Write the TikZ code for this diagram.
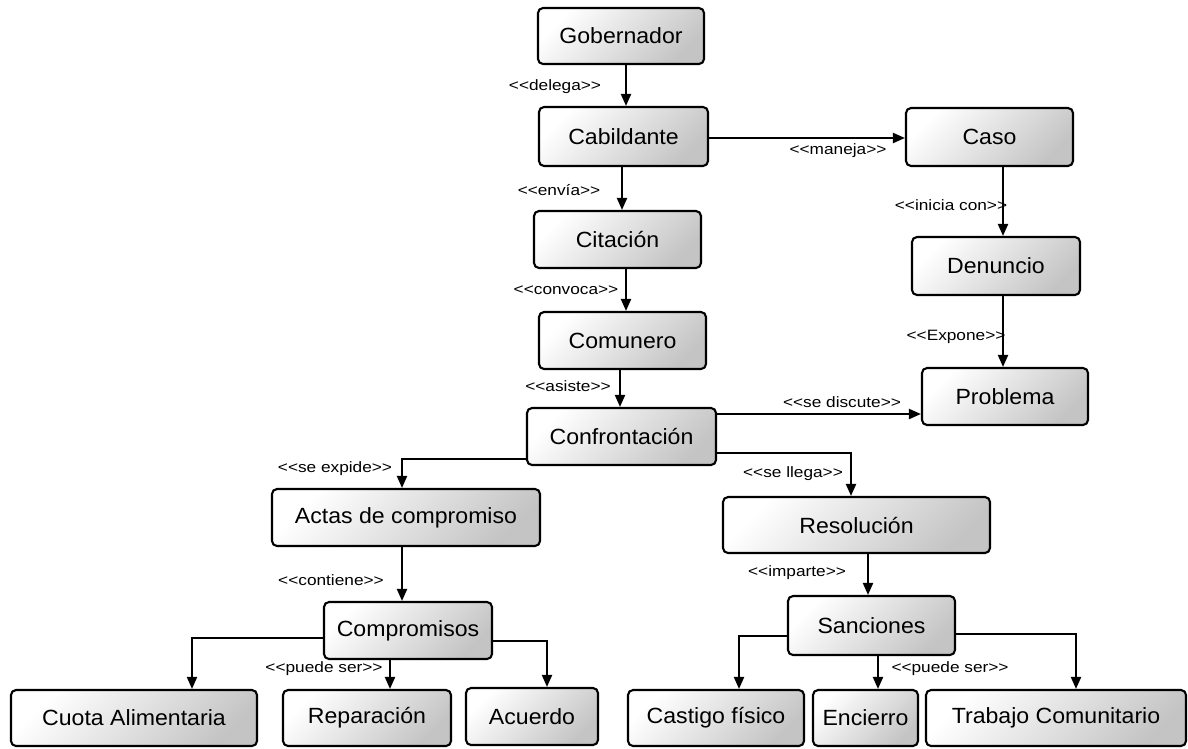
\documentclass[tikz,border=0pt]{standalone}
\usepackage{fontspec}
\newfontfamily\nodefont[FakeStretch=1.05]{Liberation Sans}
\newfontfamily\lblfont[FakeStretch=1.15]{Liberation Sans}
\usetikzlibrary{arrows.meta}
\begin{document}
\begin{tikzpicture}[x=1pt,y=-1pt,
  box/.style={draw=black, line width=2.1pt, rounded corners=5pt,
    top color=white, bottom color=black!23, shading angle=45,
    minimum height=57pt, inner sep=0pt,
    font=\nodefont\fontsize{22}{26}\selectfont, align=center},
  arr/.style={line width=2pt, -{Triangle[length=12pt,width=10pt]}},
  lbl/.style={inner sep=0pt, font=\lblfont\fontsize{15}{18}\selectfont}]
\useasboundingbox (0,0) rectangle (1188,748);

% nodes
\node[box, minimum width=166pt, minimum height=56pt] (gob)   at (621,36)    {Gobernador};
\node[box, minimum width=169pt, minimum height=59pt] (cab)   at (623.5,136.5) {Cabildante};
\node[box, minimum width=167pt, minimum height=58pt] (caso)  at (989.5,137) {Caso};
\node[box, minimum width=167pt] (cit)   at (617.5,239.5) {Citación};
\node[box, minimum width=168pt, minimum height=58pt] (den)   at (996,266)   {Denuncio};
\node[box, minimum width=167pt] (com)   at (622.5,340.5) {Comunero};
\node[box, minimum width=166pt] (prob)  at (1005,396.5) {Problema};
\node[box, minimum width=189pt] (conf)  at (621.5,436.5) {Confrontación};
\node[box, minimum width=268pt] (actas) at (406,517.5)  {Actas de compromiso};
\node[box, minimum width=267pt, minimum height=56pt] (res)   at (856.5,525) {Resolución};
\node[box, minimum width=168pt] (compr) at (408,630.5)  {Compromisos};
\node[box, minimum width=167pt, minimum height=59pt] (sanc)  at (871.5,625.5) {Sanciones};
\node[box, minimum width=246pt, minimum height=56pt] (cuota) at (134,718)   {Cuota Alimentaria};
\node[box, minimum width=168pt, minimum height=56pt] (rep)   at (367,718)   {Reparación};
\node[box, minimum width=132pt, minimum height=57pt] (acu)   at (532,716.5) {Acuerdo};
\node[box, minimum width=176pt, minimum height=56pt] (cast)  at (716,718)   {Castigo físico};
\node[box, minimum width=105pt, minimum height=56pt] (enc)   at (865.5,718) {Encierro};
\node[box, minimum width=260pt, minimum height=56pt] (trab)  at (1056,718)  {Trabajo Comunitario};

% connectors
\draw[arr] (gob.south -| 626,0) -- (cab.north -| 626,0);
\draw[arr] (cab.east |- 0,138) -- (caso.west |- 0,138);
\draw[arr] (cab.south -| 622,0) -- (cit.north -| 622,0);
\draw[arr] (cit.south -| 626,0) -- (com.north -| 626,0);
\draw[arr] (com.south -| 620,0) -- (conf.north -| 620,0);
\draw[arr] (caso.south -| 1003,0) -- (den.north -| 1003,0);
\draw[arr] (den.south -| 1003,0) -- (prob.north -| 1003,0);
\draw[arr] (conf.east |- 0,414) -- (prob.west |- 0,414);
\draw[arr] (conf.west |- 0,459) -| (actas.north -| 402,0);
\draw[arr] (conf.east |- 0,453) -| (res.north -| 851,0);
\draw[arr] (actas.south -| 402,0) -- (compr.north -| 402,0);
\draw[arr] (res.south -| 868,0) -- (sanc.north -| 868,0);
\draw[arr] (compr.west |- 0,638) -| (cuota.north -| 192,0);
\draw[arr] (compr.south -| 390,0) -- (rep.north -| 390,0);
\draw[arr] (compr.east |- 0,641) -| (acu.north -| 547,0);
\draw[arr] (sanc.west |- 0,636) -| (cast.north -| 739,0);
\draw[arr] (sanc.south -| 878,0) -- (enc.north -| 878,0);
\draw[arr] (sanc.east |- 0,634) -| (trab.north -| 1076,0);

% labels
\node[lbl] (l1)  at (555,87)   {<<delega>>};
\node[lbl] (l2)  at (838,151)  {<<maneja>>};
\node[lbl] (l3)  at (559,190)  {<<envía>>};
\node[lbl] (l4)  at (566,290)  {<<convoca>>};
\node[lbl] (l5)  at (568,386)  {<<asiste>>};
\node[lbl] (l6)  at (951,205)  {<<inicia con>>};
\node[lbl] (l7)  at (956,337)  {<<Expone>>};
\node[lbl] (l8)  at (842,402)  {<<se discute>>};
\node[lbl] (l9)  at (335,469)  {<<se expide>>};
\node[lbl] (l10) at (793,474)  {<<se llega>>};
\node[lbl] (l11) at (331,580)  {<<contiene>>};
\node[lbl] (l12) at (797,573)  {<<imparte>>};
\node[lbl] (l13) at (324,669)  {<<puede ser>>};
\node[lbl] (l14) at (950,669)  {<<puede ser>>};
\end{tikzpicture}
\end{document}
